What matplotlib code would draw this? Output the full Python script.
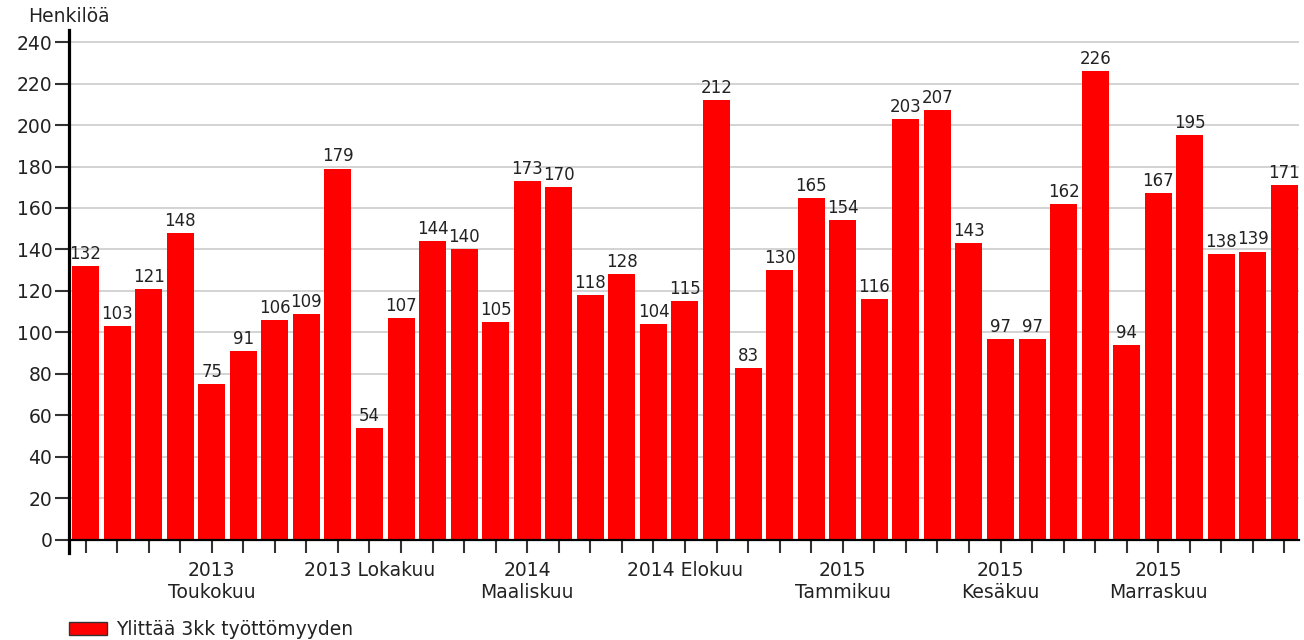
import matplotlib
matplotlib.use("Agg")
import matplotlib.pyplot as plt
from matplotlib.patches import Patch

# monthly counts, Jan 2013 .. Mar 2016
values = [132, 103, 121, 148, 75, 91, 106, 109, 179, 54, 107, 144, 140,
          105, 173, 170, 118, 128, 104, 115, 212, 83, 130, 165, 154, 116,
          203, 207, 143, 97, 97, 162, 226, 94, 167, 195, 138, 139, 171]
label_positions = [4, 9, 14, 19, 24, 29, 34]
label_texts = ["2013\nToukokuu", "2013 Lokakuu", "2014\nMaaliskuu", "2014 Elokuu",
               "2015\nTammikuu", "2015\nKesäkuu", "2015\nMarraskuu"]
y_ticks = list(range(0, 241, 20))
series_name = "Ylittää 3kk työttömyyden"
y_title = "Henkilöä"

plt.rcParams['font.family'] = ['DejaVu Sans']
text_col = '#222222'

fig = plt.figure(figsize=(13.04, 6.4), dpi=100)
ax = fig.add_axes([69 / 1304, 87 / 640, 1230 / 1304, 523 / 640])

x = list(range(len(values)))
bars = ax.bar(x, values, width=0.856, color='#ff0000', zorder=2)
for xi, v in zip(x, values):
    ax.text(xi, v + 1.5, str(v), ha='center', va='bottom', fontsize=12, color=text_col)

ax.set_xlim(-0.523, 38.46)
ax.set_ylim(-6.3, 245.8)

ax.set_yticks(y_ticks)
ax.set_yticklabels([str(t) for t in y_ticks])
ax.yaxis.grid(True, color='#d0d0d0', linewidth=1.3)
ax.set_axisbelow(True)

xt_labels = [''] * len(values)
for p, t in zip(label_positions, label_texts):
    xt_labels[p] = t
ax.set_xticks(x)
ax.set_xticklabels(xt_labels, linespacing=1.15, va='top')

ax.spines['top'].set_visible(False)
ax.spines['right'].set_visible(False)
ax.spines['bottom'].set_position(('data', 0))
ax.spines['bottom'].set_linewidth(1.6)
ax.spines['left'].set_linewidth(2.3)

ax.tick_params(axis='x', direction='out', length=9.4, width=1.5, color='#333333', pad=6,
               labelsize=13.5, labelcolor=text_col)
ax.tick_params(axis='y', direction='out', length=10, width=1.5, color='#333333',
               labelsize=13.5, labelcolor=text_col, pad=2)

fig.text(28 / 1304, (640 - 16) / 640, y_title, fontsize=13.5, color=text_col,
         ha='left', va='center')

handle = Patch(facecolor='#ff0000', edgecolor='#333333', linewidth=1)
fig.legend(handles=[handle], labels=[series_name], loc='center left',
           bbox_to_anchor=(69 / 1304, 10.5 / 640), frameon=False, borderpad=0,
           borderaxespad=0, handlelength=2.0, handleheight=0.75, handletextpad=0.53,
           fontsize=13.5, labelcolor=text_col)

fig.savefig("out.png", dpi=100)
